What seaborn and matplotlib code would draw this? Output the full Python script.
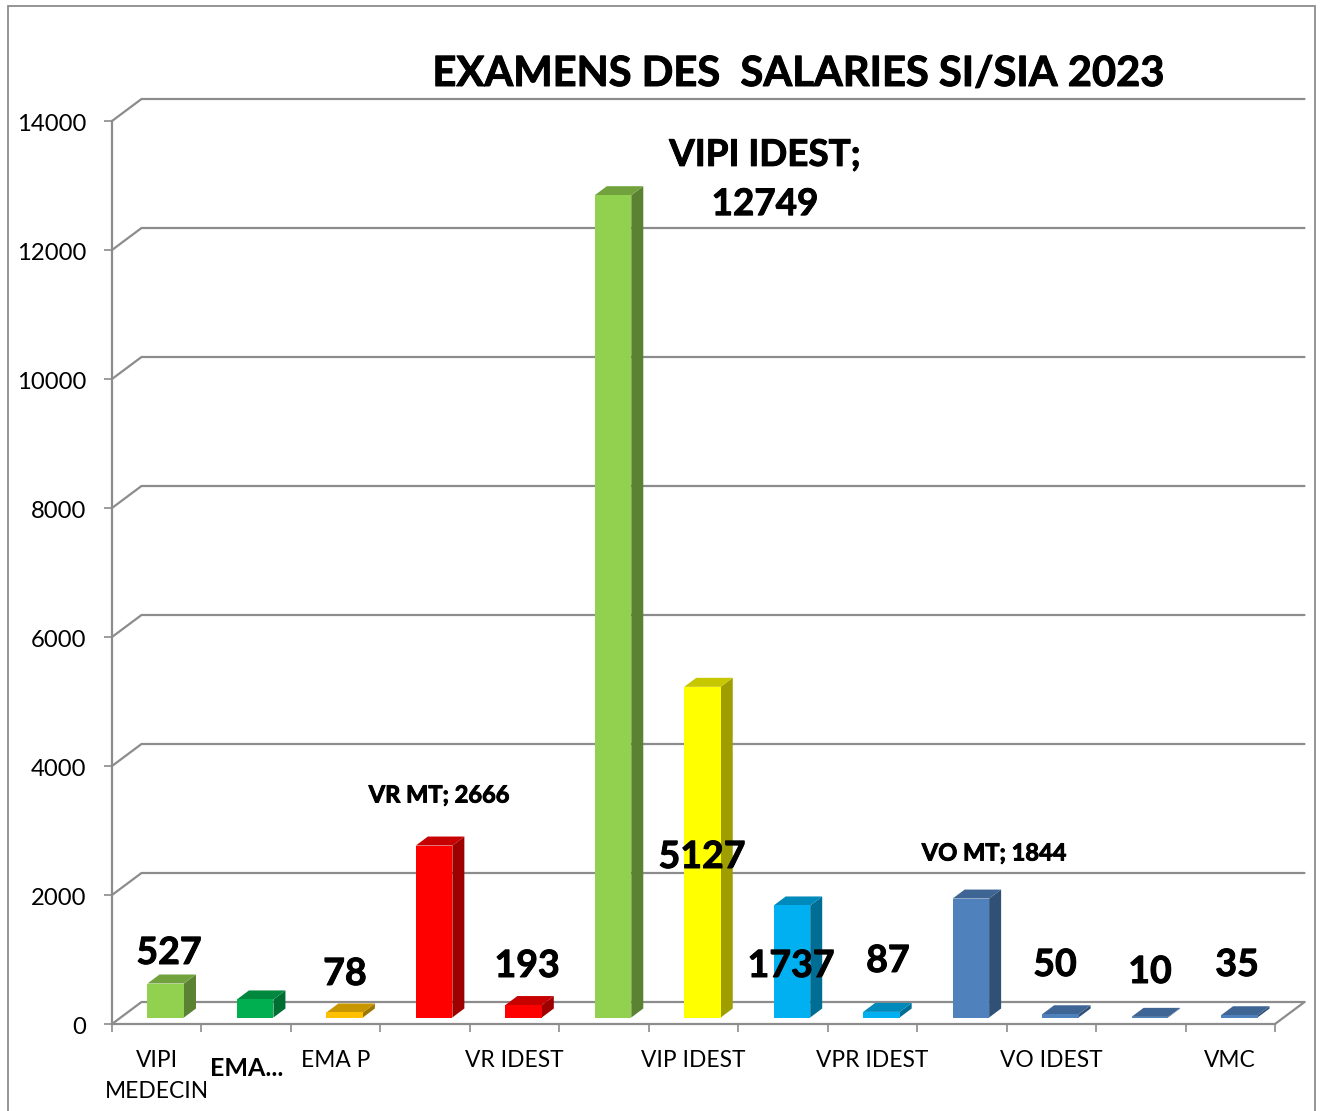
"""Examens des salaries SI/SIA 2023 - fake 3D column chart with seaborn"""

import matplotlib
matplotlib.use("Agg")
import matplotlib.patheffects as pe
import matplotlib.pyplot as plt
from matplotlib.colors import to_rgb
from matplotlib.patches import Polygon, Rectangle
from matplotlib.transforms import Affine2D
import pandas as pd
import seaborn as sns

categories = ["VIPI MEDECIN", "EMA...", "EMA P", "VR MT", "VR IDEST", "VIPI IDEST", "VIP IDEST",
              "VPR MT", "VPR IDEST", "VO MT", "VO IDEST", "(sans nom)", "VMC"]
values = [527, 280, 78, 2666, 193, 12749, 5127, 1737, 87, 1844, 50, 10, 35]
bar_colors = ["#92D050", "#00B050", "#FFC000", "#FF0000", "#FF0000", "#92D050", "#FFFF00",
              "#00B0F0", "#00B0F0", "#4F81BD", "#4F81BD", "#4F81BD", "#4F81BD"]
tick_labels = ["VIPI\nMEDECIN", "EMA...", "EMA P", "", "VR IDEST", "", "VIP IDEST",
               "", "VPR IDEST", "", "VO IDEST", "", "VMC"]
y_ticks = [0, 2000, 4000, 6000, 8000, 10000, 12000, 14000]
title = "EXAMENS DES  SALARIES SI/SIA 2023"

W, H = 1321, 1111
GRAY = "#8C8C8C"
# data label centres in image pixels
label_layout = {
    "VIPI MEDECIN": (169, 953), "EMA P": (345, 974), "VR MT": (439, 795),
    "VR IDEST": (527, 966), "VIPI IDEST": (765, 180), "VIP IDEST": (702, 857),
    "VPR MT": (791, 966), "VPR IDEST": (888, 961), "VO MT": (994, 853),
    "VO IDEST": (1055, 965), "(sans nom)": (1150, 972), "VMC": (1237, 965),
}

sns.set_style("white")
plt.rcParams["font.family"] = ["Lato", "DejaVu Sans"]

fig = plt.figure(figsize=(W / 100, H / 100), dpi=100)
ax = fig.add_axes([112 / W, 1 - 1024 / H, (1275 - 112) / W, (1024 - 121) / H])

df = pd.DataFrame({"categorie": categories, "valeur": values})
sns.barplot(data=df, x="categorie", y="valeur", hue="categorie", palette=bar_colors,
            saturation=1, width=36.5 / 89.5, legend=False, ax=ax, zorder=3, edgecolor="none")
ax.set_xlim(-0.5, 12.5)
ax.set_ylim(0, 14000)
ax.set_xlabel("")
ax.set_ylabel("")

px_x = (1275 - 112) / 13
px_y = (1024 - 121) / 14000

# walls: gridlines sit on the back plane, joined to the axis by a diagonal
wall_dx = 29.5 / px_x
wall_dy = 22 / px_y
for v in y_ticks:
    ax.plot([-0.5, -0.5 + wall_dx, 12.5 + wall_dx], [v, v + wall_dy, v + wall_dy],
            color=GRAY, lw=1.6, clip_on=False, zorder=1, solid_joinstyle="round")
ax.plot([12.5, 12.5 + wall_dx], [0, wall_dy], color=GRAY, lw=1.6, clip_on=False, zorder=1)

# bars sit in the middle of the floor depth, then get side and top faces
shift = Affine2D().translate(9, 6.5)
bar_trans = ax.transData + shift
bar_dx = 12 / px_x
bar_dy = 9 / px_y


def shade(color, factor):
    return tuple(c * factor for c in to_rgb(color))


for patch, color in zip(ax.patches, bar_colors):
    x0 = patch.get_x()
    x1 = x0 + patch.get_width()
    h = patch.get_height()
    patch.set_transform(bar_trans)
    patch.set_clip_on(False)
    patch.set_zorder(4)
    side = Polygon([(x1, 0), (x1, h), (x1 + bar_dx, h + bar_dy), (x1 + bar_dx, bar_dy)],
                   closed=True, facecolor=shade(color, 0.62), edgecolor="none",
                   transform=bar_trans, clip_on=False, zorder=3)
    top = Polygon([(x0, h), (x1, h), (x1 + bar_dx, h + bar_dy), (x0 + bar_dx, h + bar_dy)],
                  closed=True, facecolor=shade(color, 0.78), edgecolor="none",
                  transform=bar_trans, clip_on=False, zorder=3)
    ax.add_patch(side)
    ax.add_patch(top)

# axes
sns.despine(ax=ax)
for s in ["left", "bottom"]:
    ax.spines[s].set_color(GRAY)
    ax.spines[s].set_linewidth(1.6)
    ax.spines[s].set_zorder(2)

ax.set_yticks(y_ticks)
ax.tick_params(axis="y", left=True, length=5.8, width=1.2, color=GRAY, pad=12.5, labelsize=17.2,
               labelcolor="black")
for label in ax.get_yticklabels():
    label.set_transform(label.get_transform() + Affine2D().translate(0, -1.2))
ax.set_xticks(range(13))
ax.set_xticklabels(tick_labels, fontsize=16.4, color="black", linespacing=1.6)
ax.tick_params(axis="x", which="major", bottom=False, length=0, pad=18.7)
ax.set_xticks([i - 0.5 for i in range(14)], minor=True)
ax.tick_params(axis="x", which="minor", bottom=True, length=5.8, width=1.2, color=GRAY)
ema_label = ax.get_xticklabels()[1]
ema_label.set_fontweight("bold")
ema_label.set_fontsize(18)
ema_label.set_y(-0.008)

# the reference text is heavier than Lato bold
heavy = [pe.withStroke(linewidth=0.7, foreground="black")]

# data labels
for name, value in zip(categories, values):
    if name not in label_layout:
        continue
    x, y = label_layout[name]
    if name == "VR MT" or name == "VO MT":
        text, size = f"{name}; {value}", 17
    elif name == "VIPI IDEST":
        text, size = f"{name};\n{value}", 26.5
    else:
        text, size = str(value), 27
    fig.text(x / W, 1 - y / H, text, ha="center", va="center", fontsize=size,
             fontweight="bold", color="black", linespacing=1.6, zorder=10, path_effects=heavy)

fig.text(798 / W, 1 - 74 / H, title, ha="center", va="center", fontsize=30,
         fontweight="bold", color="black", zorder=10, path_effects=heavy)

# chart frame, runs off the bottom of the picture
fig.add_artist(Rectangle((8 / W, -0.02), (1315 - 8) / W, 1 - 5.5 / H + 0.02, transform=fig.transFigure,
                         fill=False, edgecolor=GRAY, lw=1.3))

plt.savefig("out.png", dpi=100)
plt.close()
